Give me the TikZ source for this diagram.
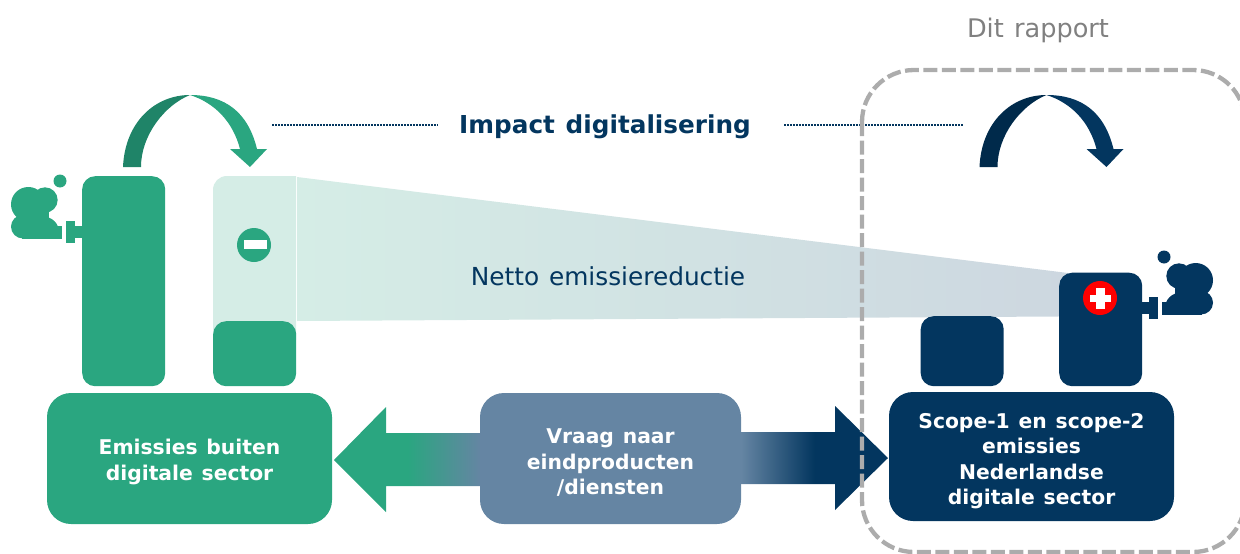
\documentclass[tikz,border=0pt]{standalone}
\usepackage{fontspec}
\setmainfont[WordSpace=1.25]{DejaVu Sans}
\usepackage{tikz}
\definecolor{impactgreen}{HTML}{2AA680}
\definecolor{impactgreendark}{HTML}{1F8468}
\definecolor{impactpale}{HTML}{D5EDE6}
\definecolor{impactnavy}{HTML}{03365F}
\definecolor{impactnavydark}{HTML}{002A4B}
\definecolor{impactslate}{HTML}{6585A3}
\definecolor{impactmist}{HTML}{CDD7E0}
\pgfdeclarehorizontalshading{greenfade}{100bp}{color(0bp)=(impactgreen); color(50bp)=(impactgreen); color(75bp)=(impactslate); color(100bp)=(impactslate)}
\pgfdeclarehorizontalshading{navyfade}{100bp}{color(0bp)=(impactslate); color(25bp)=(impactslate); color(50bp)=(impactnavy); color(100bp)=(impactnavy)}
\tikzset{
    bar/.style={rounded corners=13pt, minimum width=83pt, inner sep=0pt, anchor=north west},
    bigbox/.style={rounded corners=24pt, inner sep=0pt, text=white, align=center,
        font=\fontsize{20.3}{25.5}\bfseries\selectfont},
    pics/swoosh/.style 2 args={code={
        \fill[#1] (123,167) .. controls (125,122) and (155,95) .. (190,95)
            .. controls (165,105) and (141,135) .. (141,167) -- cycle;
        \fill[#2] (190,95) .. controls (225,95) and (248,112) .. (257,149) -- (267,149) -- (250,167)
            -- (230,149) -- (240,149) .. controls (233,122) and (215,103) .. (190,95) -- cycle;
    }},
    pics/smoke/.style={code={
        \fill[#1] (60,181) circle (6.5);
        \fill[#1] (28.3,204.3) circle (17.3);
        \fill[#1] (45,200) circle (12.7);
        \fill[#1] (22.7,226.7) circle (11.7);
        \fill[#1] (20,205) rectangle (49,230);
        \fill[#1] (22,226) rectangle (62,238.5);
        \fill[#1] (28,238) -- (28,217) .. controls (46,213) and (55,219) .. (58,226.5) -- (58,238) -- cycle;
        \fill[#1] (66,221) rectangle (75,243);
        \fill[#1] (75,226) rectangle (83,238);
    }},
}
\begin{document}
\begin{tikzpicture}[x=1pt, y=-1pt]
    \useasboundingbox (0,0) rectangle (1240,554);

    % pale band
    \fill[impactpale] (213,340) -- (213,190) .. controls (213,182) and (219,176) .. (227,176)
        -- (296,176) -- (296,340) -- cycle;
    \shade[left color=impactpale, right color=impactmist] (297,177) -- (1068,273) -- (1068,316)
        -- (1058,316.5) -- (297,321) -- cycle;

    % bars
    \node[bar, fill=impactgreen, minimum height=210pt] (greenbar) at (82,176) {};
    \node[bar, fill=impactgreen, minimum height=65pt] (greenstub) at (213,321) {};
    \node[bar, fill=impactnavy, minimum height=70pt] (navystub) at (920.5,316) {};
    \node[bar, fill=impactnavy, minimum height=113.5pt] (navybar) at (1059,272.5) {};

    \pic {smoke=impactgreen};
    \pic[xscale=-1, shift={(-1224,76)}] {smoke=impactnavy};
    \pic {swoosh={impactgreendark}{impactgreen}};
    \pic[shift={(856.5,0)}] {swoosh={impactnavydark}{impactnavy}};

    % minus and plus
    \node[circle, fill=impactgreen, minimum size=34pt, inner sep=0pt] (minus) at (254,245) {};
    \fill[white] (244,240) rectangle (267,249);
    \node[circle, fill=red, minimum size=34pt, inner sep=0pt] (plus) at (1100,298) {};
    \fill[white] (1090,295) rectangle (1111,302);
    \fill[white] (1096,288) rectangle (1105,309);

    % block arrows
    \shade[shading=greenfade] (334,460) -- (386,407) -- (386,433) -- (481,433) -- (481,486) -- (386,486)
        -- (386,512) -- cycle;
    \shade[shading=navyfade] (741,432) -- (835,432) -- (835,406) -- (888,458) -- (835,510) -- (835,484)
        -- (741,484) -- cycle;

    % big boxes
    \node[bigbox, fill=impactgreen, minimum width=285pt, minimum height=131pt] (buiten) at (189.5,458.5)
        {\rule{0pt}{22pt}Emissies buiten\\digitale sector};
    \node[bigbox, fill=impactslate, minimum width=261pt, minimum height=131pt] (vraag) at (610.5,458.5)
        {\rule{0pt}{23pt}Vraag naar\\eindproducten\\/diensten};
    \node[bigbox, fill=impactnavy, minimum width=285pt, minimum height=129pt] (scope) at (1031.5,456.5)
        {\rule{0pt}{24pt}Scope-1 en scope-2\\emissies\\Nederlandse\\digitale sector};

    % headings
    \node[font=\fontsize{24.7}{30}\bfseries\selectfont, text=impactnavy] (impact) at (605,127) {Impact digitalisering};
    \node[font=\fontsize{24.8}{28}\selectfont, text=impactnavy] (netto) at (608,276) {Netto emissiereductie};
    \node[font=\fontsize{25.6}{28}\selectfont, text=gray] (rapport) at (1038,30) {Dit rapport};
    \draw[impactnavy, dash pattern=on 1.5pt off 1.5pt, line width=1.5pt] (272,125) -- ([xshift=-18pt]impact.west |- 272,125);
    \draw[impactnavy, dash pattern=on 1.5pt off 1.5pt, line width=1.5pt] ([xshift=30pt]impact.east |- 964,125) -- (964,125);

    % report frame
    \begin{scope}
        \clip (0,0) rectangle (1240,554);
        \draw[gray!65, line width=4.3pt, dash pattern=on 14pt off 4.5pt, rounded corners=52pt]
            (862,70) rectangle (1245,552);
    \end{scope}
\end{tikzpicture}
\end{document}
